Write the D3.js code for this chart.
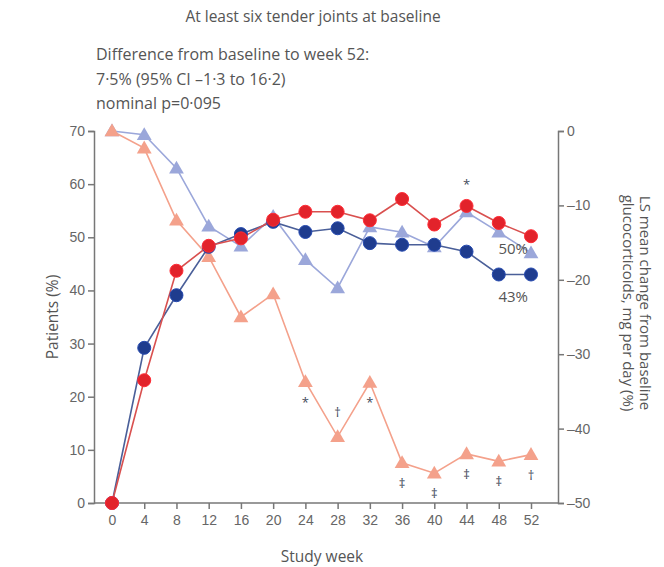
<!DOCTYPE html>
<html>
<head>
<meta charset="utf-8">
<script src="https://cdn.jsdelivr.net/npm/d3@7"></script>
<style>
  html, body { margin: 0; padding: 0; background: #fff; }
  svg { display: block; font-family: "Open Sans", "DejaVu Sans", sans-serif; }
  .tick text { fill: #666; font-size: 14px; }
  .axis path, .axis line { stroke: #777; }
</style>
</head>
<body>
<svg id="chart" width="664" height="567"></svg>
<script>
// Study weeks
const weeks = [0, 4, 8, 12, 16, 20, 24, 28, 32, 36, 40, 44, 48, 52];

// Patients (%) — left axis
const responseA = [0, 29.2, 39.1, 48.2, 50.6, 52.9, 51.0, 51.7, 48.9, 48.6, 48.6, 47.3, 43.0, 43.0];   // dark blue circles
const responseB = [0, 23.1, 43.7, 48.4, 49.8, 53.3, 54.8, 54.8, 53.2, 57.2, 52.4, 55.9, 52.7, 50.2];   // red circles

// LS mean change in glucocorticoid dose (%) — right axis
const steroidA = [0, -0.5, -5.0, -12.8, -15.5, -11.5, -17.3, -21.1, -12.9, -13.6, -15.6, -10.9, -13.6, -16.4]; // light blue triangles
const steroidB = [0, -2.3, -12.0, -16.9, -25.0, -21.9, -33.7, -41.1, -33.8, -44.6, -46.0, -43.4, -44.4, -43.5]; // salmon triangles

const leftTicks = [0, 10, 20, 30, 40, 50, 60, 70];
const rightTicks = [0, -10, -20, -30, -40, -50];

// Significance markers on the salmon series (below unless noted)
const markWeeks = [24, 28, 32, 36, 40, 44, 48, 52];
const markSymbols = ["*", "†", "*", "‡", "‡", "‡", "‡", "†"];
const markAbove = [false, true, false, false, false, false, false, false];

const titleText = "At least six tender joints at baseline";
const noteLines = ["Difference from baseline to week 52:", "7·5% (95% CI –1·3 to 16·2)", "nominal p=0·095"];

const colors = {
  darkBlue: "#1f3c8e",
  red: "#e2232b",
  lightBlue: "#9ba7da",
  salmon: "#f4a18b",
  text: "#555"
};

const svg = d3.select("#chart");

const x = d3.scaleLinear().domain([0, 52]).range([112, 531]);
const yL = d3.scaleLinear().domain([0, 70]).range([503, 131]);
const yR = d3.scaleLinear().domain([-50, 0]).range([503, 131]);
const axisLeftX = 94, axisRightX = 558;

// Title and summary
svg.append("text").attr("x", 313).attr("y", 22).attr("text-anchor", "middle")
  .attr("font-size", 15.5).attr("fill", colors.text).text(titleText);
svg.append("g").selectAll("text").data(noteLines).join("text")
  .attr("x", 96).attr("y", (d, i) => 60 + i * 24.5)
  .attr("font-size", 16).attr("fill", colors.text).text(d => d);

// Axes
svg.append("g").attr("class", "axis").attr("transform", `translate(${axisLeftX},0)`)
  .call(d3.axisLeft(yL).tickValues(leftTicks).tickSize(6).tickPadding(3));
svg.append("g").attr("class", "axis").attr("transform", `translate(${axisRightX},0)`)
  .call(d3.axisRight(yR).tickValues(rightTicks).tickFormat(d => d === 0 ? "0" : "–" + Math.abs(d)).tickSize(6).tickPadding(3));
const gX = svg.append("g").attr("class", "axis").attr("transform", "translate(0,503)")
  .call(d3.axisBottom(x).tickValues(weeks).tickSize(6).tickPadding(6));
gX.select(".domain").remove();
svg.append("line").attr("x1", axisLeftX).attr("x2", axisRightX).attr("y1", 503).attr("y2", 503)
  .attr("stroke", "#777");
svg.selectAll(".axis path, .axis line").attr("stroke-width", 1.5);
svg.selectAll("line").filter(function () { return !this.closest(".tick"); }).attr("stroke-width", 1.5);

// Axis titles
svg.append("text").attr("transform", "translate(58,317) rotate(-90)").attr("text-anchor", "middle")
  .attr("font-size", 15.5).attr("fill", colors.text).text("Patients (%)");
const rt = svg.append("text").attr("transform", "translate(640,303) rotate(90)").attr("text-anchor", "middle")
  .attr("font-size", 15).attr("fill", colors.text);
rt.append("tspan").attr("x", 0).attr("dy", 0).text("LS mean change from baseline");
rt.append("tspan").attr("x", 0).attr("dy", 17).text("glucocorticoids, mg per day (%)");
svg.append("text").attr("x", 322).attr("y", 562).attr("text-anchor", "middle")
  .attr("font-size", 15.5).attr("fill", colors.text).text("Study week");

// Series drawing helpers
function drawLine(values, yScale, color, width) {
  const line = d3.line().x((d, i) => x(weeks[i])).y(d => yScale(d));
  svg.append("path").datum(values).attr("d", line).attr("fill", "none")
    .attr("stroke", color).attr("stroke-width", width);
}
const tri = d3.symbol().type(d3.symbolTriangle).size(95);
function drawTriangles(values, yScale, color) {
  svg.append("g").selectAll("path").data(values).join("path")
    .attr("d", tri)
    .attr("transform", (d, i) => `translate(${x(weeks[i])},${yScale(d) + 1})`)
    .attr("fill", color);
}
function drawCircles(values, yScale, color) {
  svg.append("g").selectAll("circle").data(values).join("circle")
    .attr("cx", (d, i) => x(weeks[i])).attr("cy", d => yScale(d)).attr("r", 6.5)
    .attr("fill", color).attr("stroke", d3.color(color).brighter(0.6)).attr("stroke-width", 1);
}

// Glucocorticoid series (right axis)
drawLine(steroidA, yR, colors.lightBlue, 1.6);
drawLine(steroidB, yR, colors.salmon, 1.6);
drawTriangles(steroidA, yR, colors.lightBlue);
drawTriangles(steroidB, yR, colors.salmon);

// Response series (left axis)
drawLine(responseA, yL, "#4a5f99", 1.6);
drawLine(responseB, yL, "#d9504f", 1.6);
drawCircles(responseA, yL, colors.darkBlue);
drawCircles(responseB, yL, colors.red);

// End-of-study labels
svg.append("text").attr("x", x(52) - 3).attr("y", yL(responseB[13]) + 18).attr("text-anchor", "end")
  .attr("font-size", 15).attr("fill", colors.text).text(responseB[13].toFixed(0) + "%");
svg.append("text").attr("x", x(52) - 3).attr("y", yL(responseA[13]) + 28).attr("text-anchor", "end")
  .attr("font-size", 15).attr("fill", colors.text).text(responseA[13].toFixed(0) + "%");

// Significance markers
svg.append("g").selectAll("text").data(markWeeks).join("text")
  .attr("x", d => x(d))
  .attr("y", (d, i) => {
    const v = steroidB[weeks.indexOf(d)];
    return markAbove[i] ? yR(v) - 20 : yR(v) + 25;
  })
  .attr("text-anchor", "middle").attr("font-size", 13).attr("fill", "#444b5c")
  .text((d, i) => markSymbols[i]);
svg.append("text").attr("x", x(44)).attr("y", yL(responseB[11]) - 17).attr("text-anchor", "middle")
  .attr("font-size", 13).attr("fill", "#444b5c").text("*");
</script>
</body>
</html>
